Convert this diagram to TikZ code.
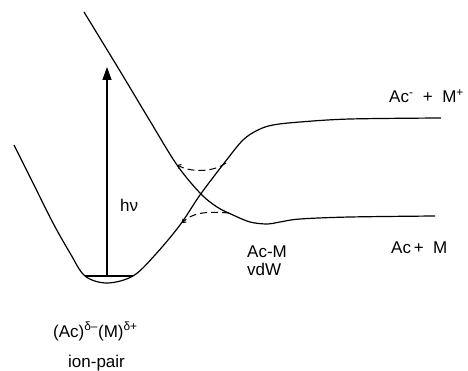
\documentclass[tikz,border=0pt]{standalone}
\usepackage{fontspec}
\setmainfont{Liberation Sans}
\usetikzlibrary{arrows.meta}

\begin{document}
\begin{tikzpicture}[x=1pt,y=-1pt,
		curve/.style={line width=1.2pt, line join=round},
		gap/.style={line width=1pt, dash pattern=on 7pt off 4pt, -{Straight Barb[length=3pt,width=5pt]}},
		every node/.style={font=\fontsize{17}{20}\selectfont, inner sep=0pt, anchor=base west}
		]
		\useasboundingbox (0,0) rectangle (468,371);
		% energy levels
		\coordinate (barL) at (85,276);
		\coordinate (barR) at (133,276);
		\coordinate (base) at (107,276);
		\coordinate (top) at (107,67);
		% ion-pair curve
		\draw[curve] plot[smooth, tension=0.55] coordinates {(14,145) (33,183) (53,223) (70,253) (barL) (107,283) (barR) (155,255) (180,225) (200,195) (225,162) (243,140) (258,130) (273,125) (300,122) (350,119) (441,118)};
		% covalent curve
		\draw[curve] plot[smooth, tension=0.55] coordinates {(84,12) (120,71) (150,121) (177,165) (200,193) (217,207) (233,215) (250,222) (267,224) (280,222) (300,219) (350,217) (435,216)};
		\draw[line width=1.3pt] (barL) -- (barR);
		\draw[line width=1.3pt, -{Triangle[length=13pt,width=9pt]}] (base) -- (top);
		% avoided crossing
		\coordinate (upR) at (226,163);
		\coordinate (upL) at (177,165);
		\coordinate (loR) at (229,213);
		\coordinate (loL) at (182,223);
		\draw[gap] (upR) .. controls (212,173) and (190,172) .. (upL);
		\draw[gap] (loR) .. controls (205,211) and (192,213) .. (loL);
		% labels
		\node (hnu) at (120,212) {hν};
		\node (ions) at (389,103) {Ac\textsuperscript{-}\ \ +\ \ M\textsuperscript{+}};
		\node (atoms) at (391,253) {Ac\,+\ \ M};
		\node (vdwA) at (247,257) {Ac-M};
		\node (vdwB) at (247,275) {vdW};
		\node (pair) at (53,337) {(Ac)\textsuperscript{δ–}(M)\textsuperscript{δ+}};
		\node (pairname) at (68,367) {ion-pair};
	\end{tikzpicture}
\end{document}
